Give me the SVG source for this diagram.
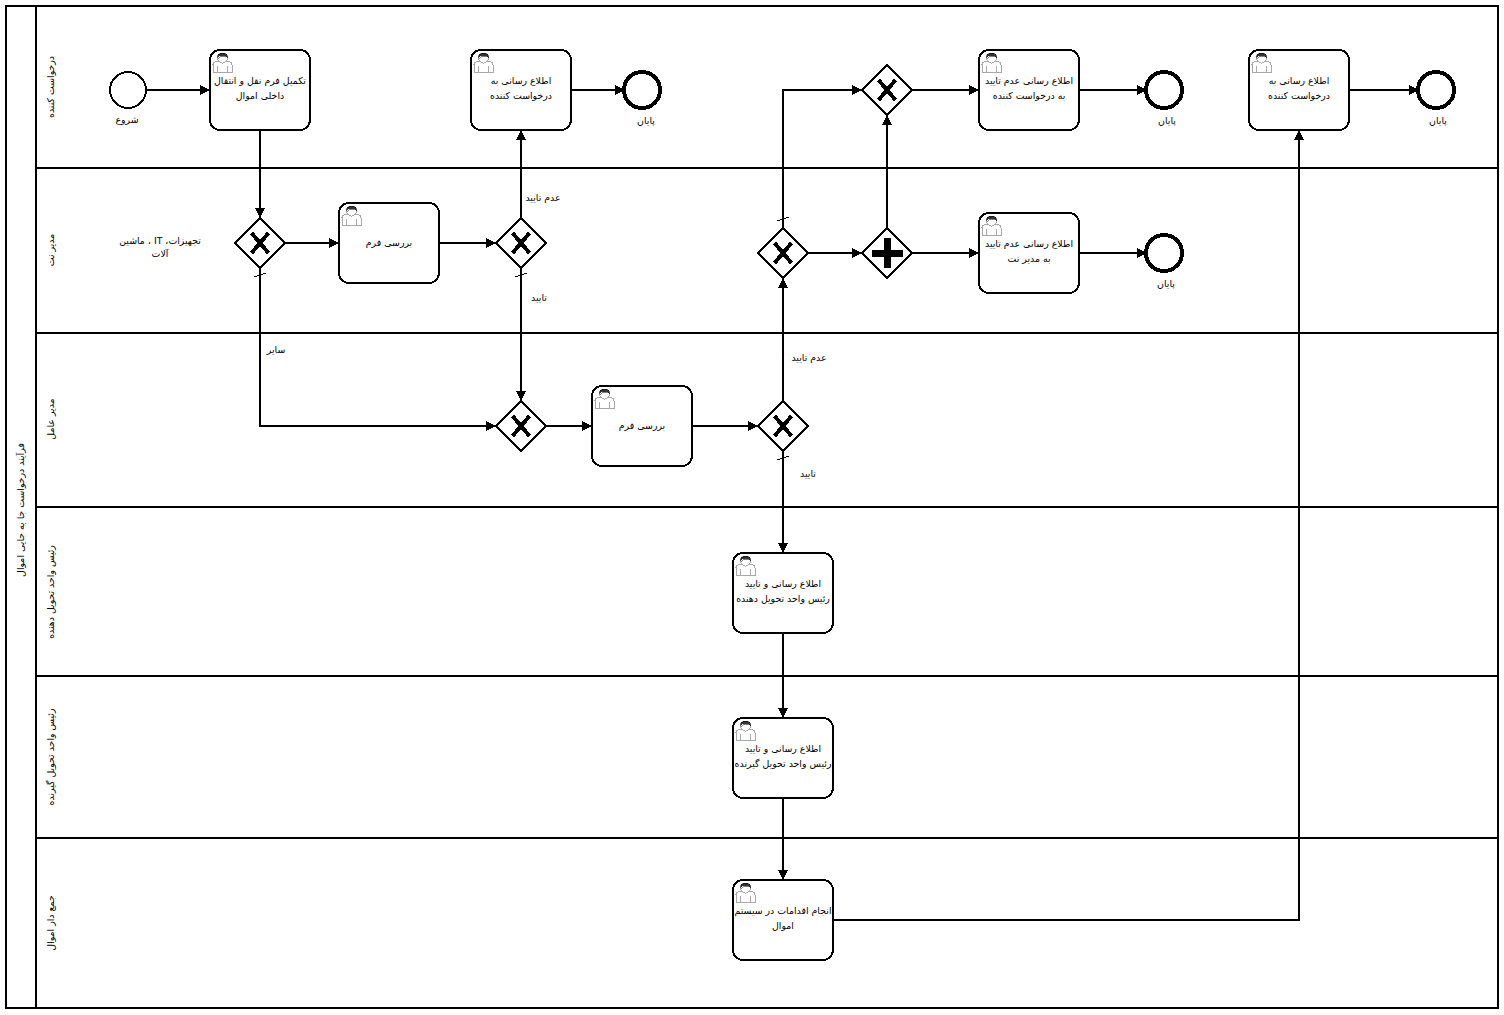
<svg xmlns="http://www.w3.org/2000/svg" xmlns:xlink="http://www.w3.org/1999/xlink" width="1504" height="1015" viewBox="0 0 1504 1015" shape-rendering="crispEdges">
<style>
text{font-family:"DejaVu Sans","Liberation Sans",sans-serif;font-size:9.4px;fill:#000;text-anchor:middle}
.pool,.lane{fill:none;stroke:#000;stroke-width:2}
.task{fill:#fff;stroke:#000;stroke-width:2}
.gw{fill:#fff;stroke:#000;stroke-width:2}
.mk{fill:none;stroke:#000;stroke-width:4}
.plus{fill:none;stroke:#000;stroke-width:7}
.ev{fill:#fff;stroke:#000;stroke-width:2}
.end{fill:#fff;stroke:#000;stroke-width:4}
.flow{fill:none;stroke:#000;stroke-width:2;marker-end:url(#arr)}
.tick{fill:none;stroke:#000;stroke-width:1}
.ub{fill:#fff;stroke:#a8a8a8;stroke-width:1}
.uh{fill:#333;stroke:#000;stroke-width:.5}
</style>
<defs>
<marker id="arr" markerUnits="userSpaceOnUse" markerWidth="12" markerHeight="12" refX="11" refY="6" orient="auto"><path d="M1 1 L11 6 L1 11 Z" fill="#000"/></marker>
<g id="user" transform="translate(0 1)"><path class="ub" d="M3 21 V13.5 Q3 11 8 10 L10 9 H15 L17 10 Q22 11 22 13.5 V21 Z"/><path class="ub" d="M7.5 21 V15 M17.5 21 V15"/><circle class="ub" cx="12.5" cy="7" r="5"/><path class="uh" d="M7.5 7 Q7 2 12.5 2 Q18 2 17.5 7 Q16 4.500 12.500 5 Q9 4.500 7.500 7 Z"/></g>
<g id="x"><path class="mk" d="M-8.500 -10 L8.500 10 M8.500 -10 L-8.500 10"/></g>
</defs>
<rect width="1504" height="1015" fill="#fff"/>
<g id="pool">
<rect class="pool" x="6" y="6" width="1492" height="1002"/>
<path class="lane" d="M36 6 V1008 M36 168 H1498 M36 333 H1498 M36 507 H1498 M36 676 H1498 M36 838 H1498"/>
<text transform="translate(24 510) rotate(-90)">فرآیند درخواست جا به جایی اموال</text>
<text transform="translate(54 87) rotate(-90)">درخواست کننده</text>
<text transform="translate(54 250) rotate(-90)">مدیر نت</text>
<text transform="translate(54 419) rotate(-90)">مدیر عامل</text>
<text transform="translate(54 592) rotate(-90)">رئیس واحد تحویل دهنده</text>
<text transform="translate(54 757) rotate(-90)">رئیس واحد تحویل گیرنده</text>
<text transform="translate(54 923) rotate(-90)">جمع دار اموال</text>
</g>
<g id="start"><circle class="ev" cx="128" cy="90" r="18"/><text x="127" y="123">شروع</text></g>
<g id="end1"><circle class="end" cx="642" cy="90" r="18"/><text x="646" y="124">پایان</text></g>
<g id="end2"><circle class="end" cx="1164" cy="90" r="18"/><text x="1167" y="124">پایان</text></g>
<g id="end3"><circle class="end" cx="1164" cy="253" r="18"/><text x="1166" y="287">پایان</text></g>
<g id="end4"><circle class="end" cx="1436" cy="90" r="18"/><text x="1438" y="124">پایان</text></g>
<g id="task1"><rect class="task" x="210" y="50" width="100" height="80" rx="10"/><use xlink:href="#user" href="#user" x="210" y="50"/><text x="260" y="84">تکمیل فرم نقل و انتقال</text><text x="260" y="99">داخلی اموال</text></g>
<g id="task2"><rect class="task" x="471" y="50" width="100" height="80" rx="10"/><use xlink:href="#user" href="#user" x="471" y="50"/><text x="521" y="84">اطلاع رسانی به</text><text x="521" y="99">درخواست کننده</text></g>
<g id="task3"><rect class="task" x="979" y="50" width="100" height="80" rx="10"/><use xlink:href="#user" href="#user" x="979" y="50"/><text x="1029" y="84">اطلاع رسانی عدم تایید</text><text x="1029" y="99">به درخواست کننده</text></g>
<g id="task4"><rect class="task" x="1249" y="50" width="100" height="80" rx="10"/><use xlink:href="#user" href="#user" x="1249" y="50"/><text x="1299" y="84">اطلاع رسانی به</text><text x="1299" y="99">درخواست کننده</text></g>
<g id="task5"><rect class="task" x="339" y="203" width="100" height="80" rx="10"/><use xlink:href="#user" href="#user" x="339" y="203"/><text x="389" y="246">بررسی فرم</text></g>
<g id="task6"><rect class="task" x="979" y="213" width="100" height="80" rx="10"/><use xlink:href="#user" href="#user" x="979" y="213"/><text x="1029" y="247">اطلاع رسانی عدم تایید</text><text x="1029" y="262">به مدیر نت</text></g>
<g id="task7"><rect class="task" x="592" y="386" width="100" height="80" rx="10"/><use xlink:href="#user" href="#user" x="592" y="386"/><text x="642" y="429">بررسی فرم</text></g>
<g id="task8"><rect class="task" x="733" y="553" width="100" height="80" rx="10"/><use xlink:href="#user" href="#user" x="733" y="553"/><text x="783" y="587">اطلاع رسانی و تایید</text><text x="783" y="602">رئیس واحد تحویل دهنده</text></g>
<g id="task9"><rect class="task" x="733" y="718" width="100" height="80" rx="10"/><use xlink:href="#user" href="#user" x="733" y="718"/><text x="783" y="752">اطلاع رسانی و تایید</text><text x="783" y="767">رئیس واحد تحویل گیرنده</text></g>
<g id="task10"><rect class="task" x="733" y="880" width="100" height="80" rx="10"/><use xlink:href="#user" href="#user" x="733" y="880"/><text x="783" y="914">انجام اقدامات در سیستم</text><text x="783" y="929">اموال</text></g>
<g id="gw1"><path class="gw" d="M260 218 L285 243 L260 268 L235 243 Z"/><use xlink:href="#x" href="#x" x="260" y="243"/></g>
<g id="gw2"><path class="gw" d="M521 218 L546 243 L521 268 L496 243 Z"/><use xlink:href="#x" href="#x" x="521" y="243"/></g>
<g id="gw3"><path class="gw" d="M521 401 L546 426 L521 451 L496 426 Z"/><use xlink:href="#x" href="#x" x="521" y="426"/></g>
<g id="gw4"><path class="gw" d="M783 401 L808 426 L783 451 L758 426 Z"/><use xlink:href="#x" href="#x" x="783" y="426"/></g>
<g id="gw5"><path class="gw" d="M783 228 L808 253 L783 278 L758 253 Z"/><use xlink:href="#x" href="#x" x="783" y="253"/></g>
<g id="gw6"><path class="gw" d="M887 65 L912 90 L887 115 L862 90 Z"/><use xlink:href="#x" href="#x" x="887" y="90"/></g>
<g id="gw7"><path class="gw" d="M887 228 L912 253 L887 278 L862 253 Z"/><path class="plus" d="M872 253 H903 M887 238 V268"/></g>
<g id="note"><text x="160" y="244">ماشین ، IT ،تجهیزات</text><text x="160" y="257">آلات</text></g>
<g id="connectors">
<path class="flow" d="M146 90 H210"/>
<path class="flow" d="M260 130 V218"/>
<path class="flow" d="M285 243 H339"/>
<path class="flow" d="M439 243 H496"/>
<path class="flow" d="M521 218 V130"/>
<path class="flow" d="M521 268 V401"/>
<path class="flow" d="M260 268 V426 H496"/>
<path class="flow" d="M546 426 H592"/>
<path class="flow" d="M692 426 H758"/>
<path class="flow" d="M783 401 V278"/>
<path class="flow" d="M783 451 V553"/>
<path class="flow" d="M783 228 V90 H862"/>
<path class="flow" d="M808 253 H862"/>
<path class="flow" d="M887 228 V115"/>
<path class="flow" d="M912 253 H979"/>
<path class="flow" d="M912 90 H979"/>
<path class="flow" d="M1079 90 H1147"/>
<path class="flow" d="M1079 253 H1147"/>
<path class="flow" d="M571 90 H625"/>
<path class="flow" d="M1349 90 H1419"/>
<path class="flow" d="M783 633 V718"/>
<path class="flow" d="M783 798 V880"/>
<path class="flow" d="M833 920 H1299 V130"/>
<path class="tick" d="M254 277 L266 273 M515 277 L527 273 M777 460 L789 456 M777 221 L789 217"/>
<text x="543" y="201">عدم تایید</text>
<text x="539" y="301">تایید</text>
<text x="276" y="353">سایر</text>
<text x="809" y="361">عدم تایید</text>
<text x="808" y="477">تایید</text>
</g>
</svg>
